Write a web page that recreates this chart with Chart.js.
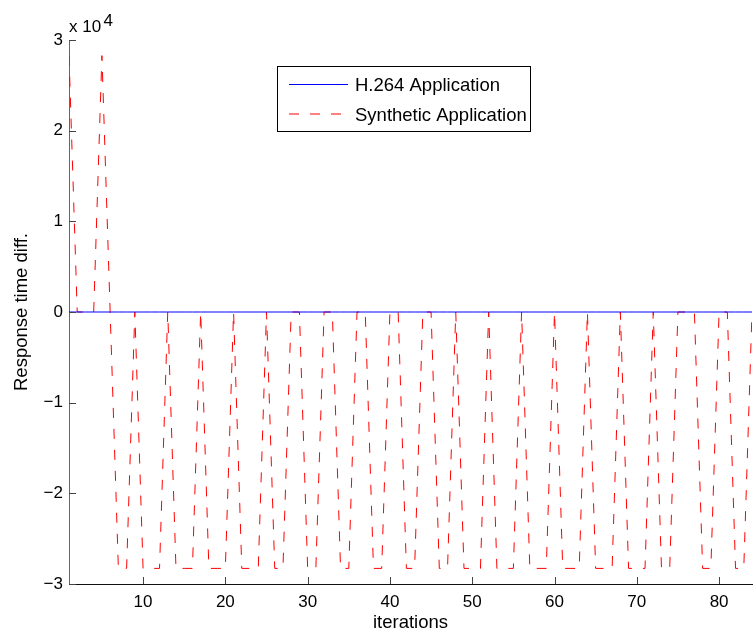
<!DOCTYPE html>
<html>
<head>
<meta charset="utf-8">
<title>Response time diff.</title>
<script src="https://cdn.jsdelivr.net/npm/chart.js@4.4.1/dist/chart.umd.min.js"></script>
<style>
    html, body { margin: 0; padding: 0; background: #fff; }
    #wrap { width: 754px; height: 634px; }
</style>
</head>
<body>
<div id="wrap"><canvas id="chart" width="754" height="634"></canvas></div>
<script>
// x axis: iteration number
const iterations = [
    1, 2, 3, 4, 5, 6, 7, 8, 9, 10,
    11, 12, 13, 14, 15, 16, 17, 18, 19, 20,
    21, 22, 23, 24, 25, 26, 27, 28, 29, 30,
    31, 32, 33, 34, 35, 36, 37, 38, 39, 40,
    41, 42, 43, 44, 45, 46, 47, 48, 49, 50,
    51, 52, 53, 54, 55, 56, 57, 58, 59, 60,
    61, 62, 63, 64, 65, 66, 67, 68, 69, 70,
    71, 72, 73, 74, 75, 76, 77, 78, 79, 80,
    81, 82, 83, 84
];

// H.264 application: difference stays at zero
const h264Diff = [
    0, 0, 0, 0, 0, 0, 0, 0, 0, 0,
    0, 0, 0, 0, 0, 0, 0, 0, 0, 0,
    0, 0, 0, 0, 0, 0, 0, 0, 0, 0,
    0, 0, 0, 0, 0, 0, 0, 0, 0, 0,
    0, 0, 0, 0, 0, 0, 0, 0, 0, 0,
    0, 0, 0, 0, 0, 0, 0, 0, 0, 0,
    0, 0, 0, 0, 0, 0, 0, 0, 0, 0,
    0, 0, 0, 0, 0, 0, 0, 0, 0, 0,
    0, 0, 0, 0
];

// Synthetic application
const syntheticDiff = [
    28280, 0, 0, 0, 28280, 0, -28280, -28280, 0, -28280,
    -28280, -28280, 0, -28280, -28280, -28280, 0, -28280, -28280, -28280,
    0, -28280, -28280, -28280, 0, -28280, -28280, 0, 0, -28280,
    -28280, 0, 0, -28280, -28280, 0, 0, -28280, -28280, 0,
    0, -28280, -28280, 0, 0, -28280, -28280, 0, -28280, -28280,
    -28280, 0, -28280, -28280, -28280, 0, -28280, -28280, -28280, 0,
    -28280, -28280, -28280, 0, -28280, -28280, -28280, 0, -28280, -28280,
    -28280, 0, -28280, -28280, 0, 0, 0, -28280, -28280, 0,
    0, -28280, -28280, 0
];

const xTickValues = [10, 20, 30, 40, 50, 60, 70, 80];
const yTickValues = [-30000, -20000, -10000, 0, 10000, 20000, 30000];

const FONT = '"Liberation Sans", Arial, Helvetica, sans-serif';

// inward tick marks, MATLAB style
const innerTicks = {
    id: 'innerTicks',
    afterDatasetsDraw(chart) {
        const { ctx, chartArea, scales } = chart;
        ctx.save();
        ctx.lineWidth = 1;
        ctx.strokeStyle = '#444';
        scales.x.ticks.forEach(t => {
            const px = Math.round(scales.x.getPixelForValue(t.value)) + 0.5;
            ctx.beginPath();
            ctx.moveTo(px, chartArea.bottom);
            ctx.lineTo(px, chartArea.bottom - 7);
            ctx.stroke();
        });
        scales.y.ticks.forEach(t => {
            const py = Math.round(scales.y.getPixelForValue(t.value)) + 0.5;
            ctx.beginPath();
            ctx.moveTo(chartArea.left, py);
            ctx.lineTo(chartArea.left + 7, py);
            ctx.stroke();
        });
        ctx.restore();
    }
};

// "x 10^4" exponent label and the boxed legend
const extras = {
    id: 'extras',
    afterDraw(chart) {
        const { ctx, chartArea } = chart;
        ctx.save();
        ctx.fillStyle = '#000';
        ctx.textBaseline = 'alphabetic';
        ctx.textAlign = 'left';
        ctx.font = '17px ' + FONT;
        ctx.fillText('x 10', chartArea.left, 32);
        ctx.fillText('4', chartArea.left + 34.5, 26);

        // legend box
        const bx = 277.5, by = 66.5, bw = 253, bh = 65;
        ctx.fillStyle = '#fff';
        ctx.fillRect(bx, by, bw, bh);
        ctx.strokeStyle = '#000';
        ctx.lineWidth = 1;
        ctx.strokeRect(bx, by, bw, bh);

        const rows = [84.5, 114];
        chart.data.datasets.forEach((ds, i) => {
            const y = rows[i];
            ctx.beginPath();
            ctx.strokeStyle = ds.borderColor;
            ctx.lineWidth = ds.borderWidth;
            ctx.setLineDash(ds.borderDash || []);
            ctx.moveTo(289, y);
            ctx.lineTo(348, y);
            ctx.stroke();
            ctx.setLineDash([]);
            ctx.fillStyle = '#000';
            ctx.font = '18.5px ' + FONT;
            ctx.fillText(ds.label, 355, y + 6.5);
        });
        ctx.restore();
    }
};

const ctx = document.getElementById('chart').getContext('2d');
new Chart(ctx, {
    type: 'line',
    data: {
        labels: iterations,
        datasets: [{
            label: 'H.264 Application',
            data: h264Diff,
            borderColor: 'rgb(0,0,255)',
            borderWidth: 1,
            pointRadius: 0,
            tension: 0
        }, {
            label: 'Synthetic Application',
            data: syntheticDiff,
            borderColor: 'rgb(255,0,0)',
            borderWidth: 1,
            borderDash: [10, 11],
            pointRadius: 0,
            tension: 0
        }]
    },
    options: {
        responsive: false,
        animation: false,
        devicePixelRatio: 1,
        layout: { padding: { left: 0, right: 2, top: 40, bottom: 0 } },
        plugins: {
            legend: { display: false },
            tooltip: { enabled: false }
        },
        scales: {
            x: {
                type: 'linear',
                min: 1,
                max: 84,
                afterBuildTicks: scale => { scale.ticks = xTickValues.map(v => ({ value: v })); },
                afterFit: scale => { scale.height = 50; },
                grid: { display: false, drawTicks: false },
                border: { display: true, color: '#111', width: 1 },
                ticks: {
                    padding: 8,
                    color: '#000',
                    font: { family: FONT, size: 17 },
                    maxRotation: 0,
                    callback: v => String(v)
                },
                title: {
                    display: true,
                    text: 'iterations',
                    color: '#000',
                    font: { family: FONT, size: 18.5 },
                    padding: { top: 0, bottom: 0 }
                }
            },
            y: {
                min: -30000,
                max: 30000,
                afterBuildTicks: scale => { scale.ticks = yTickValues.map(v => ({ value: v })); },
                afterFit: scale => { scale.width = 69; },
                grid: { display: false, drawTicks: false },
                border: { display: true, color: '#666', width: 1 },
                ticks: {
                    padding: 6,
                    color: '#000',
                    font: { family: FONT, size: 17 },
                    callback: v => {
                        const n = v / 10000;
                        return n < 0 ? '\u2212' + Math.abs(n) : String(n);
                    }
                },
                title: {
                    display: true,
                    text: 'Response time diff.',
                    color: '#000',
                    font: { family: FONT, size: 18.5 },
                    padding: { top: 11, bottom: 0 }
                }
            }
        }
    },
    plugins: [innerTicks, extras]
});
</script>
</body>
</html>
